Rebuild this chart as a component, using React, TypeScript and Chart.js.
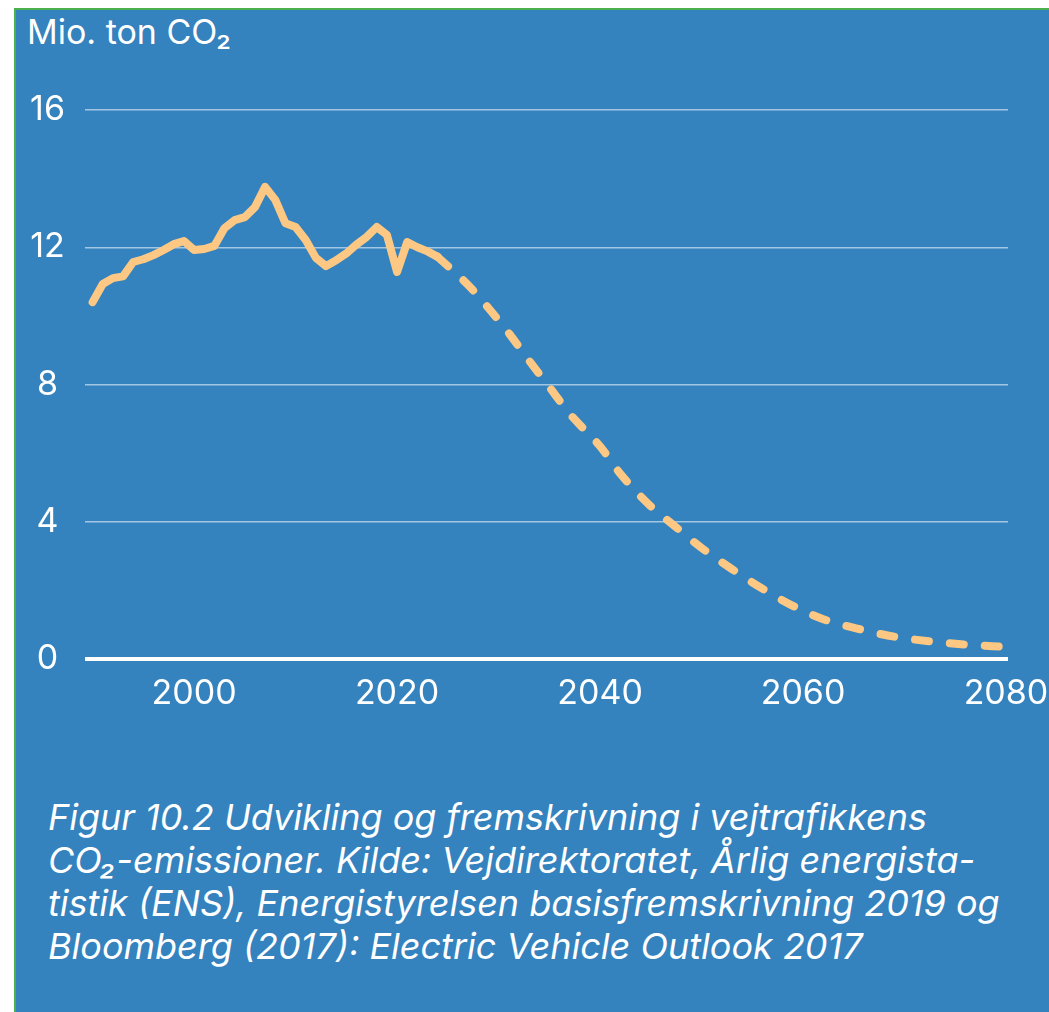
import React, { useEffect, useRef } from "react";
import { Chart, registerables } from "chart.js";

Chart.register(...registerables);

// Historical road-traffic CO2 emissions (mio. ton)
const histYears = [1990, 1991, 1992, 1993, 1994, 1995, 1996, 1997, 1998, 1999, 2000, 2001, 2002, 2003, 2004, 2005, 2006, 2007, 2008, 2009, 2010, 2011, 2012, 2013, 2014, 2015, 2016, 2017, 2018, 2019, 2020, 2021, 2022, 2023, 2024];
const histValues = [10.4, 10.93, 11.1, 11.15, 11.57, 11.65, 11.77, 11.92, 12.09, 12.18, 11.92, 11.95, 12.04, 12.56, 12.79, 12.88, 13.17, 13.76, 13.38, 12.7, 12.59, 12.21, 11.69, 11.45, 11.62, 11.82, 12.08, 12.3, 12.59, 12.36, 11.28, 12.15, 12.0, 11.88, 11.72];

// Projection (dashed)
const projYears = [2024, 2027, 2029, 2031, 2033, 2035, 2037, 2040, 2042, 2045, 2047, 2050, 2053, 2056, 2059, 2062, 2066, 2069, 2073, 2076, 2080];
const projValues = [11.72, 10.9, 10.23, 9.5, 8.7, 7.93, 7.15, 6.2, 5.4, 4.45, 3.96, 3.24, 2.62, 2.05, 1.55, 1.16, 0.84, 0.65, 0.5, 0.42, 0.35];

const xTickValues = [2000, 2020, 2040, 2060, 2080];
const yTickValues = [0, 4, 8, 12, 16];

const BLUE = "rgb(52,130,190)";
const LINE = "#fdc883";
const FONT = "Inter, 'Noto Sans', sans-serif";

export default function App() {
  const canvasRef = useRef<HTMLCanvasElement | null>(null);

  useEffect(() => {
    const canvas = canvasRef.current;
    if (!canvas) return;
    const chart = new Chart(canvas, {
      type: "line",
      data: {
        datasets: [
          {
            data: histYears.map((x, i) => ({ x, y: histValues[i] })),
            borderColor: LINE,
            borderWidth: 8,
            pointRadius: 0,
            borderJoinStyle: "round",
            borderCapStyle: "round",
            tension: 0,
            fill: false,
          },
          {
            data: projYears.map((x, i) => ({ x, y: projValues[i] })),
            borderColor: LINE,
            borderWidth: 8,
            pointRadius: 0,
            borderJoinStyle: "round",
            borderCapStyle: "round",
            borderDash: [14, 21],
            cubicInterpolationMode: "monotone",
            fill: false,
          },
        ],
      },
      options: {
        animation: false,
        responsive: false,
        maintainAspectRatio: false,
        layout: { padding: { left: 14, right: 41, top: 100, bottom: 21 } },
        plugins: { legend: { display: false }, tooltip: { enabled: false }, title: { display: false } },
        scales: {
          x: {
            type: "linear",
            min: 1989.25,
            max: 2080.2,
            grid: { display: false, drawTicks: false },
            border: { display: false },
            afterBuildTicks: (scale: any) => {
              scale.ticks = xTickValues.map((v) => ({ value: v }));
            },
            afterFit: (scale: any) => {
              scale.height = 60;
              scale.paddingLeft = 0;
              scale.paddingRight = 0;
            },
            ticks: {
              color: "#ffffff",
              padding: 14,
              maxRotation: 0,
              autoSkip: false,
              font: { family: FONT, size: 34 },
              callback: (v: any) => String(v),
            },
          },
          y: {
            type: "linear",
            min: 0,
            max: 16,
            afterBuildTicks: (scale: any) => {
              scale.ticks = yTickValues.map((v) => ({ value: v }));
            },
            afterFit: (scale: any) => {
              scale.width = 55;
            },
            border: { display: false },
            grid: {
              drawTicks: false,
              color: (ctx: any) => (ctx.tick && ctx.tick.value === 0 ? "#ffffff" : "rgba(255,255,255,0.55)"),
              lineWidth: (ctx: any) => (ctx.tick && ctx.tick.value === 0 ? 4 : 1.5),
            },
            ticks: {
              color: "#ffffff",
              padding: 20,
              crossAlign: "center",
              font: { family: FONT, size: 34 },
              callback: (v: any) => String(v),
            },
          },
        },
      },
    });
    return () => chart.destroy();
  }, []);

  return (
    <div
      style={{
        position: "absolute",
        left: 14,
        top: 8,
        width: 1033,
        height: 1002,
        borderLeft: "2px solid #4caf50",
        borderTop: "2px solid #4caf50",
        background: BLUE,
        overflow: "hidden",
        fontFamily: FONT,
        color: "#ffffff",
      }}
    >
      <div
        style={{
          position: "absolute",
          left: 11,
          top: 1,
          fontSize: 34,
          lineHeight: "42px",
          whiteSpace: "nowrap",
        }}
      >
        Mio. ton CO₂
      </div>
      <canvas
        ref={canvasRef}
        width={1033}
        height={730}
        style={{ position: "absolute", left: 0, top: 0, width: 1033, height: 730 }}
      />
      <div
        style={{
          position: "absolute",
          left: 32,
          top: 786,
          fontSize: 36,
          lineHeight: "43px",
          fontStyle: "italic",
          whiteSpace: "nowrap",
        }}
      >
        Figur 10.2 Udvikling og fremskrivning i vejtrafikkens
        <br />
        CO₂-emissioner. Kilde: Vejdirektoratet, Årlig energista-
        <br />
        tistik (ENS), Energistyrelsen basisfremskrivning 2019 og
        <br />
        Bloomberg (2017): Electric Vehicle Outlook 2017
      </div>
    </div>
  );
}
